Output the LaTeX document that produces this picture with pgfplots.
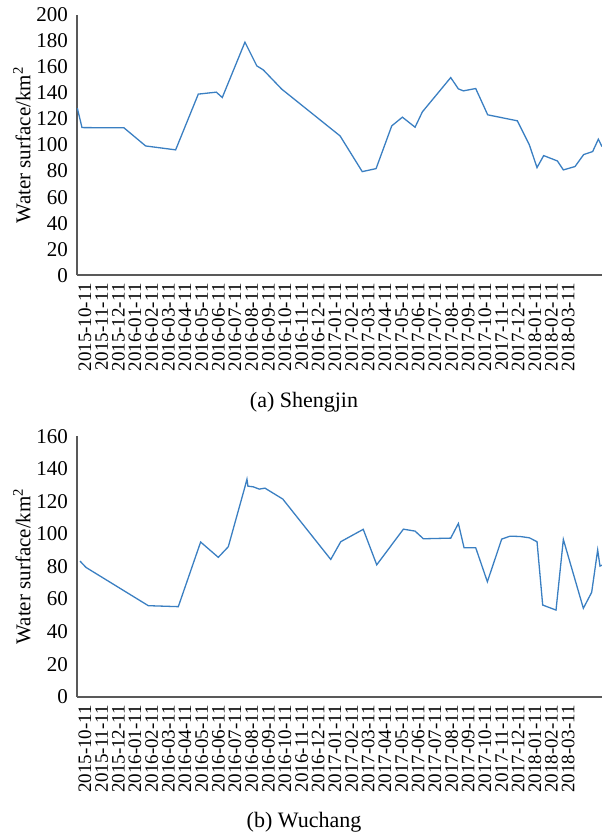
\documentclass[border=0pt]{standalone}
\usepackage{pgfplots}
\pgfplotsset{compat=1.18}
\usepackage{fontspec}
\setmainfont{Liberation Serif}
\definecolor{lineblue}{HTML}{3A7FC2}
\definecolor{axgray}{HTML}{595959}
\pgfplotsset{
  common/.style={
    scale only axis, width=525pt, height=260.5pt,
    axis x line*=bottom, axis y line*=left,
    x axis line style={axgray, line width=1.8pt},
    y axis line style={axgray, line width=1.3pt},
    major tick length=0pt,
    xmin=-0.48, xmax=31.03, ymin=0,
    xtick={0,...,29},
    xticklabels={2015-10-11,2015-11-11,2015-12-11,2016-01-11,2016-02-11,2016-03-11,2016-04-11,2016-05-11,2016-06-11,2016-07-11,2016-08-11,2016-09-11,2016-10-11,2016-11-11,2016-12-11,2017-01-11,2017-02-11,2017-03-11,2017-04-11,2017-05-11,2017-06-11,2017-07-11,2017-08-11,2017-09-11,2017-10-11,2017-11-11,2017-12-11,2018-01-11,2018-02-11,2018-03-11},
    x tick label style={rotate=90, anchor=east, font=\fontsize{19}{20}\selectfont, inner sep=0pt},
    xticklabel shift=8pt,
    y tick label style={font=\fontsize{21}{22}\selectfont, inner sep=0pt},
    yticklabel shift=9pt,
    /pgf/number format/assume math mode=true,
    ylabel={Water surface/km\textsuperscript{2}},
    ylabel style={font=\fontsize{21}{22}\selectfont, at={(axis description cs:-0.105,0.5)}, anchor=center},
    xlabel style={font=\fontsize{22}{23}\selectfont, anchor=base},
    clip=true,
  }
}
\begin{document}
\begin{tikzpicture}[x=1pt,y=1pt]
\useasboundingbox (0,0) rectangle (602,835);
\begin{axis}[common, at={(77pt,559.7pt)}, anchor=south west,
  ymax=200, ytick={0,20,...,200},
  xlabel={(a) Shengjin},
  xlabel style={at={(axis description cs:0.4324,-0.5094)}}]
\addplot[lineblue, line width=1.3pt] coordinates {
(-0.46,128.3) (-0.18,113.4) (2.34,113.2) (3.64,99.3) (5.44,96.3) (6.80,139.1)
(7.88,140.6) (8.24,136.5) (9.60,179) (10.31,160.8) (10.70,157.7) (11.81,142.9)
(15.31,107) (16.64,79.6) (17.47,81.9) (18.41,114.7) (19.05,121.4) (19.81,113.7)
(20.25,125.5) (21.95,151.8) (22.41,143.1) (22.71,141.6) (23.45,143.4) (24.17,123.2)
(25.95,118.6) (26.67,100.1) (27.13,82.7) (27.53,91.9) (28.35,87.8) (28.71,80.9)
(29.41,83.5) (29.93,92.7) (30.47,95) (30.81,104.5) (31.03,98.8)
};
\end{axis}
\begin{axis}[common, at={(77pt,138.3pt)}, anchor=south west,
  ymax=160, ytick={0,20,...,160},
  xlabel={(b) Wuchang},
  xlabel style={at={(axis description cs:0.4324,-0.5002)}}]
\addplot[lineblue, line width=1.3pt] coordinates {
(-0.30,83.3) (0.06,79.4) (3.80,55.9) (5.60,55.3) (6.94,95) (8.00,85.6) (8.60,92.1)
(9.60,128.9) (9.72,133.6) (9.78,129.3) (10.10,128.9) (10.46,127.5) (10.80,128.1)
(11.87,121.4) (14.75,84.3) (15.35,95.2) (16.70,102.8) (17.51,81.0) (19.11,102.9)
(19.81,101.7) (20.31,97) (21.95,97.4) (22.41,106.4) (22.75,91.5) (23.45,91.5)
(24.15,70.6) (25.01,96.8) (25.51,98.6) (26.11,98.4) (26.67,97.6) (27.13,95.2)
(27.47,56.3) (28.27,53.2) (28.71,96.6) (29.91,54.3) (30.41,64.1) (30.77,90.1)
(30.91,80.2) (31.03,80.8)
};
\end{axis}
\end{tikzpicture}
\end{document}
